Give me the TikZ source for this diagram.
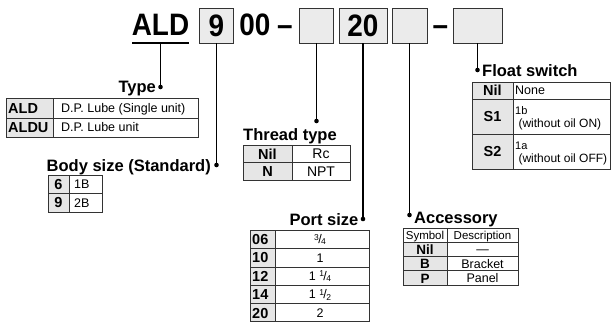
\documentclass[tikz,border=0pt]{standalone}
\usepackage{fontspec}
\setmainfont{Liberation Sans}
\newfontfamily\titlefont{Liberation Sans Bold}[FakeStretch=0.9]
\newcommand{\frc}[2]{{\raisebox{3.6pt}{\fontsize{8.5}{8.5}\selectfont #1}\kern-0.6pt/\kern-0.6pt\raisebox{-1.2pt}{\fontsize{8.5}{8.5}\selectfont #2}}}
\definecolor{hdgray}{HTML}{E6E6E6}
\definecolor{boxgray}{HTML}{EBEBEB}
\definecolor{rule}{HTML}{333333}
\tikzset{
  ttl/.style={font=\titlefont\fontsize{31}{31}\selectfont, inner sep=0pt, anchor=base},
  codebox/.style={draw=rule, fill=boxgray, line width=0.8pt, minimum height=35pt, inner sep=0pt},
  lead/.style={line width=1.1pt},
  leaddot/.style={circle, fill=black, inner sep=0pt, minimum size=4.6pt},
  lab/.style={font=\bfseries\fontsize{16.5}{17}\selectfont, inner sep=0pt},
  grid/.style={draw=rule, line width=0.6pt},
  hfill/.style={fill=hdgray},
  ctc/.style={font=\fontsize{12.5}{12.5}\selectfont, inner sep=0pt, anchor=base, yshift=-4.4pt},
  ctw/.style={font=\fontsize{12.5}{12.5}\selectfont, inner sep=0pt, anchor=base west, yshift=-4.4pt},
  hdc/.style={font=\bfseries\fontsize{14.5}{14.5}\selectfont, inner sep=0pt, anchor=base, yshift=-5.2pt},
  hdw/.style={font=\bfseries\fontsize{14.5}{14.5}\selectfont, inner sep=0pt, anchor=base west, yshift=-5.2pt},
}
\begin{document}
\begin{tikzpicture}[x=1pt,y=-1pt]
\useasboundingbox (0,0) rectangle (611,322);

% ---- model code line ----
\node[ttl] (ald) at (160.5,35) {ALD};
\draw[line width=1.4pt] (132,43) -- (189,43);
\coordinate (aldlead) at (160.5,43.7);
\node[codebox, minimum width=34pt] (b9) at (216.5,25.5) {\titlefont\fontsize{31}{31}\selectfont 9};
\node[ttl] (zz) at (255,35) {00};
\node[ttl] (dash1) at (285,35) {–};
\node[codebox, minimum width=34pt] (bth) at (316.5,25.5) {};
\node[codebox, minimum width=48pt] (b20) at (363,25.5) {\titlefont\fontsize{31}{31}\selectfont 20};
\node[codebox, minimum width=35pt] (bacc) at (409.5,25.5) {};
\node[ttl] (dash2) at (440.5,35) {–};
\node[codebox, minimum width=49pt] (bfl) at (477.5,25.5) {};

% ---- dots ----
\node[leaddot] (dtype) at (160.5,87) {};
\node[leaddot] (dbody) at (216.5,165) {};
\node[leaddot] (dthr) at (316.5,121) {};
\node[leaddot] (dport) at (363,219) {};
\node[leaddot] (dacc) at (409.5,215) {};
\node[leaddot] (dfl) at (477.5,70) {};

% ---- leaders ----
\draw[lead] (aldlead) -- (dtype.center);
\draw[lead] (b9.south) -- (dbody.center);
\draw[lead] (bth.south) -- (dthr.center);
\draw[lead] (b20.south) -- (dport.center);
\draw[lead] (bacc.south) -- (dacc.center);
\draw[lead] (bfl.south) -- (dfl.center);

% ---- labels ----
\node[lab, anchor=base east] (ltype) at (156,92) {Type};
\node[lab, anchor=base east] (lbody) at (211,171.5) {Body size (Standard)};
\node[lab, anchor=base west] (lthr) at (243,140) {Thread type};
\node[lab, anchor=base east] (lport) at (358.5,225.5) {Port size};
\node[lab, anchor=base west] (lacc) at (414,223) {Accessory};
\node[lab, anchor=base west] (lfl) at (482,76) {Float switch};

% ---- Type table ----
\fill[hfill] (6,98) rectangle (53,137);
\draw[grid] (6,98) rectangle (198,137);
\draw[grid] (53,98) -- (53,137);
\draw[grid] (6,118) -- (198,118);
\node[hdw] (t1a) at (8,108) {ALD};
\node[hdw] (t2a) at (8,127.5) {ALDU};
\node[ctw] (t1b) at (61,108) {D.P. Lube (Single unit)};
\node[ctw] (t2b) at (61,127.5) {D.P. Lube unit};

% ---- Body size table ----
\fill[hfill] (48,175) rectangle (69,212);
\draw[grid] (48,175) rectangle (102,212);
\draw[grid] (69,175) -- (69,212);
\draw[grid] (48,193.5) -- (102,193.5);
\node[hdc] (s1a) at (58.5,184.2) {6};
\node[hdc] (s2a) at (58.5,202.7) {9};
\node[ctw] (s1b) at (74,184.2) {1B};
\node[ctw] (s2b) at (74,202.7) {2B};

% ---- Thread type table ----
\fill[hfill] (243,145) rectangle (292,180);
\draw[grid] (243,145) rectangle (350,180);
\draw[grid] (292,145) -- (292,180);
\draw[grid] (243,162.5) -- (350,162.5);
\node[hdc] (r1a) at (267.5,153.8) {Nil};
\node[hdc] (r2a) at (267.5,171.3) {N};
\node[ctc, font=\fontsize{14}{14}\selectfont, yshift=-0.5pt] (r1b) at (321,153.8) {Rc};
\node[ctc, font=\fontsize{14}{14}\selectfont, yshift=-0.5pt] (r2b) at (321,171.3) {NPT};

% ---- Port size table ----
\fill[hfill] (250,230) rectangle (275,322);
\draw[grid] (250,230) rectangle (369,321.6);
\draw[grid] (275,230) -- (275,322);
\foreach \yy in {248.4,266.8,285.2,303.6} \draw[grid] (250,\yy) -- (369,\yy);
\node[hdw] (p1a) at (252,239.2) {06};
\node[hdw] (p2a) at (252,257.6) {10};
\node[hdw] (p3a) at (252,276) {12};
\node[hdw] (p4a) at (252,294.4) {14};
\node[hdw] (p5a) at (252,312.8) {20};
\node[ctc] (p1b) at (320,239.2) {\frc34};
\node[ctc] (p2b) at (320,257.6) {1};
\node[ctc] (p3b) at (320,276) {1 \frc14};
\node[ctc] (p4b) at (320,294.4) {1 \frc12};
\node[ctc] (p5b) at (320,312.8) {2};

% ---- Accessory table ----
\fill[hfill] (403,242.25) rectangle (447,285);
\draw[grid] (403,228) rectangle (518,285);
\draw[grid] (447,228) -- (447,285);
\foreach \yy in {242.25,256.5,270.75} \draw[grid] (403,\yy) -- (518,\yy);
\node[ctc, font=\fontsize{11.5}{11.5}\selectfont] (a0a) at (425,235.1) {Symbol};
\node[ctc, font=\fontsize{11.5}{11.5}\selectfont] (a0b) at (482.5,235.1) {Description};
\node[hdc, font=\bfseries\fontsize{13.5}{13.5}\selectfont] (a1a) at (425,249.4) {Nil};
\node[ctc] (a1b) at (482.5,249.4) {—};
\node[hdc, font=\bfseries\fontsize{13.5}{13.5}\selectfont] (a2a) at (425,263.6) {B};
\node[ctc] (a2b) at (482.5,263.6) {Bracket};
\node[hdc, font=\bfseries\fontsize{13.5}{13.5}\selectfont] (a3a) at (425,277.9) {P};
\node[ctc] (a3b) at (482.5,277.9) {Panel};

% ---- Float switch table ----
\fill[hfill] (472,82) rectangle (513,169);
\draw[grid] (472,82) rectangle (610.5,169);
\draw[grid] (513,82) -- (513,169);
\draw[grid] (472,99) -- (610.5,99);
\draw[grid] (472,134) -- (610.5,134);
\node[hdc] (f1a) at (492.5,90.5) {Nil};
\node[ctw] (f1b) at (515,90.5) {None};
\node[hdc] (f2a) at (492.5,116.5) {S1};
\node[ctw, font=\fontsize{11}{11}\selectfont] (f2b) at (515,110.5) {1b};
\node[ctw, font=\fontsize{12}{12}\selectfont] (f2c) at (515,123) {\ (without oil ON)};
\node[hdc] (f3a) at (492.5,151.5) {S2};
\node[ctw, font=\fontsize{11}{11}\selectfont] (f3b) at (515,145.5) {1a};
\node[ctw, font=\fontsize{12}{12}\selectfont] (f3c) at (515,158) {\ (without oil OFF)};
\end{tikzpicture}
\end{document}
